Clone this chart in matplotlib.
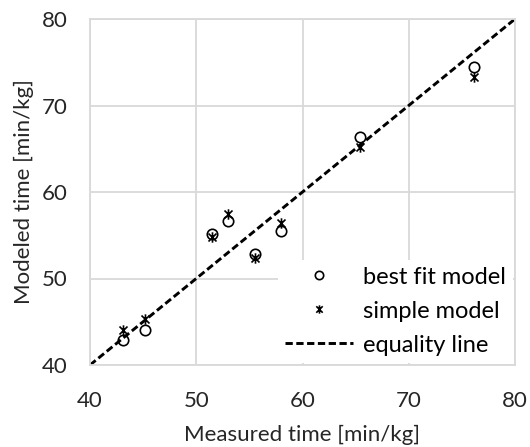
import matplotlib
matplotlib.use("Agg")
import matplotlib.pyplot as plt
from matplotlib.path import Path

plt.rcParams['font.family'] = ['Lato', 'DejaVu Sans']

# data
measured = [43.1, 45.2, 51.5, 53.0, 55.5, 58.0, 65.4, 76.1]
best_fit = [42.9, 44.0, 55.1, 56.6, 52.8, 55.5, 66.4, 74.5]
simple = [44.0, 45.3, 54.8, 57.5, 52.4, 56.4, 65.2, 73.3]
equality = [40, 80]
ticks = [40, 50, 60, 70, 80]

# excel style star: an x with a vertical bar
star = Path([(-1, -1), (1, 1), (-1, 1), (1, -1), (0, -1.3), (0, 1.3)],
            [Path.MOVETO, Path.LINETO, Path.MOVETO, Path.LINETO, Path.MOVETO, Path.LINETO])

grey = '#d9d9d9'
txt = '#262626'

fig = plt.figure(figsize=(5.30, 4.47), dpi=100)
ax = fig.add_axes([90 / 530, 1 - 365 / 447, 425 / 530, 346 / 447])

ax.plot(measured, best_fit, linestyle='none', marker='o', markersize=7.5,
        markerfacecolor='none', markeredgecolor='black', markeredgewidth=1.2,
        label='best fit model', zorder=3)
ax.plot(measured, simple, linestyle='none', marker=star, markersize=7.5,
        markeredgecolor='black', markeredgewidth=1.2,
        label='simple model', zorder=3)
ax.plot(equality, equality, color='black', linestyle=(0, (2.5, 1.2)), linewidth=2.1,
        label='equality line', zorder=2)

ax.set_xlim(40, 80)
ax.set_ylim(40, 80)
ax.set_xticks(ticks)
ax.set_yticks(ticks)
ax.grid(True, color=grey, linewidth=1.3)
ax.set_axisbelow(True)
for sp in ax.spines.values():
    sp.set_color(grey)
    sp.set_linewidth(1.3)
ax.tick_params(length=0, labelsize=16, colors=txt)
ax.tick_params(axis='x', pad=19)
ax.tick_params(axis='y', pad=16)

ax.set_xlabel('Measured time [min/kg]', fontsize=16, color=txt, labelpad=10)
ax.set_ylabel('Modeled time [min/kg]', fontsize=16, color=txt, labelpad=6)

leg = ax.legend(loc='lower right', bbox_to_anchor=(1.0, 0.0), frameon=True,
                fontsize=17, handlelength=2.9, handletextpad=0.4,
                borderaxespad=0.1, borderpad=0.3, labelspacing=0.55,
                markerscale=0.8, framealpha=1, edgecolor='white', fancybox=False)
leg.get_frame().set_linewidth(0)

fig.savefig('out.png', dpi=100)
